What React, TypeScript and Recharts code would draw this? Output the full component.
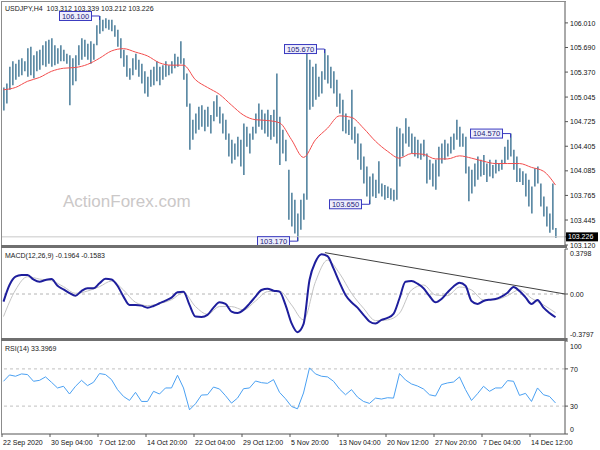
import React from "react";
import {
  ComposedChart,
  Bar,
  Line,
  XAxis,
  YAxis,
  ReferenceLine,
  ReferenceDot,
} from "recharts";

const FONT = "'Liberation Sans', Arial, sans-serif";
const SPAN = 375.33; // H4 bars visible across the plot
const SLOT = 2; // H4 bars per drawn bar

// high / low per drawn bar (USDJPY H4)
const highs = [
  105.17, 105.22, 105.44, 105.51, 105.48, 105.53, 105.55, 105.51, 105.68, 105.7,
  105.59, 105.64, 105.66, 105.72, 105.77, 105.79, 105.81, 105.72, 105.68, 105.72,
  105.66, 105.61, 105.59, 105.55, 105.59, 105.72, 105.81, 105.79, 105.74, 105.77,
  105.74, 105.98, 106.1, 106.05, 106.07, 106.05, 106.05, 105.98, 105.92, 105.81,
  105.66, 105.59, 105.42, 105.55, 105.61, 105.53, 105.48, 105.38, 105.31, 105.4,
  105.44, 105.51, 105.44, 105.46, 105.51, 105.46, 105.51, 105.61, 105.57, 105.77,
  105.55, 105.35, 104.96, 104.75, 104.83, 104.92, 104.94, 104.88, 104.92, 104.81,
  104.99, 105.07, 104.92, 104.83, 104.75, 104.57, 104.49, 104.44, 104.53, 104.49,
  104.7, 104.66, 104.57, 104.66, 104.83, 104.96, 104.88, 104.83, 104.88, 104.81,
  104.88, 105.35, 104.79, 104.62, 104.49, 104.1, 103.8, 103.71, 103.53, 103.71,
  103.79, 105.61, 105.53, 105.44, 105.48, 105.31, 105.38, 105.67, 105.59, 105.44,
  105.38, 105.27, 105.09, 105.01, 104.83, 104.75, 105.14, 104.66, 104.57, 104.44,
  104.27, 104.14, 104.01, 104.05, 103.97, 104.21, 103.92, 103.9, 103.88, 103.86,
  103.84, 104.66, 104.64, 104.57, 104.77, 104.66, 104.57, 104.53, 104.49, 104.44,
  104.49, 104.31, 104.23, 104.18, 104.23, 104.4, 104.44, 104.49, 104.44, 104.53,
  104.57, 104.75, 104.66, 104.57, 104.53, 104.14, 104.1, 104.18, 104.27, 104.23,
  104.29, 104.18, 104.23, 104.16, 104.23, 104.18, 104.23, 104.4, 104.49, 104.57,
  104.36, 104.27, 104.12, 104.08, 104.05, 103.97, 103.88, 104.12, 104.14, 103.92,
  103.75, 103.62, 103.53, 103.92, 103.34,
];
const lows = [
  104.87, 104.96, 105.14, 105.2, 105.27, 105.31, 105.33, 105.38, 105.31, 105.33,
  105.29, 105.38, 105.4, 105.46, 105.44, 105.48, 105.44, 105.46, 105.48, 105.51,
  105.51, 105.48, 104.94, 105.2, 105.25, 105.46, 105.53, 105.57, 105.53, 105.48,
  105.53, 105.72, 105.87, 105.9, 105.94, 105.92, 105.9, 105.83, 105.7, 105.55,
  105.44, 105.31, 105.27, 105.33, 105.4, 105.31, 105.22, 105.09, 105.05, 105.18,
  105.2, 105.25, 105.2, 105.27, 105.31, 105.33, 105.35, 105.42, 105.44, 105.48,
  105.27, 104.92, 104.36, 104.49, 104.57, 104.62, 104.66, 104.6, 104.66, 104.57,
  104.73, 104.79, 104.7, 104.57, 104.49, 104.27, 104.18, 104.23, 104.27, 104.14,
  104.03, 104.4, 104.31, 104.49, 104.57, 104.66, 104.62, 104.57, 104.53, 104.49,
  104.53, 104.44, 104.16, 104.31, 104.21, 103.45, 103.36, 103.27, 103.17, 103.32,
  103.45, 103.71, 104.88, 104.92, 105.01, 105.05, 105.09, 105.27, 105.22, 105.16,
  105.09, 104.92, 104.83, 104.6, 104.57, 104.55, 104.49, 104.44, 104.23, 104.1,
  103.92, 103.75, 103.65, 103.75, 103.73, 103.79, 103.75, 103.71, 103.73, 103.71,
  103.69, 103.71, 104.14, 104.27, 104.44, 104.4, 104.31, 104.27, 104.25, 104.23,
  104.27, 103.92, 103.97, 103.88, 103.84, 104.01, 104.18, 104.23, 104.27, 104.31,
  104.36, 104.49, 104.4, 104.4, 104.05, 103.69, 103.79, 103.88, 103.97, 104.01,
  104.03, 103.94, 104.01, 103.99, 104.05, 104.08, 104.1, 104.18, 104.23, 104.27,
  104.1, 103.94, 103.94, 103.9, 103.75, 103.62, 103.53, 103.88, 103.92, 103.62,
  103.49, 103.36, 103.28, 103.32, 103.21,
];
// moving average, one value every 4 drawn bars
const maValues = [
  105.14, 105.17, 105.25, 105.3, 105.38, 105.42, 105.43, 105.47, 105.55, 105.645,
  105.675, 105.63, 105.58, 105.49, 105.46, 105.46, 105.27, 105.17, 105.08, 104.94,
  104.81, 104.75, 104.74, 104.71, 104.49, 104.26, 104.49, 104.64, 104.8, 104.78,
  104.64, 104.47, 104.34, 104.25, 104.31, 104.3, 104.24, 104.24, 104.28, 104.25,
  104.21, 104.18, 104.18, 104.18, 104.13, 104.08, 103.9,
];
// MACD main line, one value every 2 drawn bars
const macdValues = [
  -0.064, 0.076, 0.146, 0.16, 0.16, 0.123, 0.104, 0.118, 0.126, 0.07,
  0.039, 0.008, -0.014, 0.025, 0.048, 0.048, 0.09, 0.129, 0.123, 0.07,
  -0.022, -0.092, -0.092, -0.098, -0.115, -0.101, -0.078, -0.056, -0.031, 0.014,
  0.02, -0.092, -0.19, -0.193, -0.176, -0.115, -0.07, -0.084, -0.148, -0.16,
  -0.134, -0.081, -0.022, 0.034, 0.045, 0.028, 0.02, -0.092, -0.246, -0.322,
  -0.255, 0.118, 0.272, 0.335, 0.32, 0.216, 0.098, -0.008, -0.07, -0.115,
  -0.176, -0.232, -0.249, -0.218, -0.202, -0.168, -0.036, 0.104, 0.109, 0.087,
  0.048, -0.017, -0.07, -0.042, 0.014, 0.064, 0.095, 0.07, -0.059, -0.084,
  -0.059, -0.048, -0.042, -0.022, 0.011, 0.059, 0.025, -0.028, -0.084, -0.05,
  -0.115, -0.16, -0.196,
];
// MACD signal, one value every 4 drawn bars
const signalValues = [
  -0.19, 0.034, 0.146, 0.126, 0.112, 0.062, 0.006, 0.025, 0.062, 0.109,
  0.034, -0.07, -0.098, -0.081, -0.048, 0.011, -0.106, -0.171, -0.106, -0.106,
  -0.134, -0.059, 0.02, 0.025, -0.092, -0.218, 0.104, 0.286, 0.174, 0.006,
  -0.12, -0.224, -0.218, -0.162, 0.034, 0.076, -0.008, -0.014, 0.059, 0.034,
  -0.05, -0.048, -0.014, 0.036, -0.036, -0.092, -0.158,
];
// RSI(14), one value every 2 drawn bars
const rsiValues = [
  56.7, 63.5, 62.1, 64.6, 63.9, 56.7, 57.7, 61.4, 55.6, 49.5,
  51.3, 43.0, 51.3, 57.7, 52.0, 55.6, 65.0, 63.9, 58.5, 47.7,
  40.4, 36.1, 44.8, 35.0, 35.0, 45.9, 43.0, 49.5, 49.5, 63.2,
  49.5, 26.0, 32.5, 41.9, 42.2, 50.5, 48.4, 41.2, 33.2, 38.6,
  48.7, 49.5, 57.0, 55.2, 54.5, 58.5, 44.8, 37.9, 29.6, 27.1,
  44.1, 71.1, 64.6, 62.1, 61.4, 56.7, 48.4, 42.2, 47.7, 39.7,
  35.0, 32.9, 38.6, 37.6, 39.0, 38.6, 65.0, 58.1, 53.8, 51.6,
  48.4, 42.2, 40.8, 53.1, 54.9, 55.9, 61.4, 47.7, 36.1, 43.3,
  51.3, 45.9, 49.5, 49.5, 57.4, 56.7, 41.5, 43.7, 35.0, 49.5,
  42.2, 40.4, 33.4,
];

const dateLabels = [
  "22 Sep 2020", "30 Sep 04:00", "7 Oct 12:00", "14 Oct 20:00",
  "22 Oct 04:00", "29 Oct 12:00", "5 Nov 20:00", "13 Nov 04:00",
  "20 Nov 12:00", "27 Nov 20:00", "7 Dec 04:00", "14 Dec 12:00",
];
const dateTicks = dateLabels.map((_, i) => i * 32);
const priceTicks = [106.01, 105.69, 105.37, 105.045, 104.725, 104.405, 104.085, 103.765, 103.445, 103.12];
const lastClose = 103.226;
const macdTicks = [0.3798, 0, -0.3797];
const rsiTicks = [100, 70, 30, 0];
const rsiLevels = [70, 30];
const priceFlags = [
  { slot: 32, price: 106.1, text: "106.100", side: "high" },
  { slot: 98, price: 103.17, text: "103.170", side: "low" },
  { slot: 107, price: 105.67, text: "105.670", side: "high" },
  { slot: 122, price: 103.65, text: "103.650", side: "low" },
  { slot: 169, price: 104.57, text: "104.570", side: "high" },
];
const macdTrend = [{ x: 215.3, y: 0.349 }, { x: SPAN, y: 0 }];

const priceRows = highs.map((h, i) => ({
  x: i * SLOT + 1,
  range: [lows[i], h],
  ma: i % 4 === 0 ? maValues[i / 4] : null,
}));
const macdRows = macdValues.map((v, k) => ({
  x: k * 2 * SLOT + 1,
  macd: v,
  signal: k % 2 === 0 ? signalValues[k / 2] : null,
}));
const rsiRows = rsiValues.map((v, k) => ({ x: k * 2 * SLOT + 1, rsi: v }));

const axisStroke = "#555";

function makeTick(fmt: (v: number) => string, shift: (v: number) => number = () => 0) {
  return (p: any) => {
    const v = p.payload.value;
    if (v === lastClose) {
      return (
        <g>
          <rect x={p.x - 4} y={p.y - 4.5} width={32} height={9} fill="#000" />
          <text x={p.x - 2} y={p.y} dy={2.6} fontSize={7} fontFamily={FONT} fill="#fff">
            {fmt(v)}
          </text>
        </g>
      );
    }
    return (
      <text x={p.x} y={p.y + shift(v)} dy={2.6} fontSize={7} fontFamily={FONT} fill="#111">
        {fmt(v)}
      </text>
    );
  };
}

function DateTick(p: any) {
  return (
    <text x={p.x + 1} y={p.y} dy={5.5} fontSize={7} fontFamily={FONT} fill="#111">
      {dateLabels[Math.round(p.payload.value / 32)]}
    </text>
  );
}

function flagShape(text: string, side: string) {
  return (p: any) => {
    const { cx, cy } = p;
    const dir = side === "high" ? 1 : -1;
    return (
      <g>
        <line x1={cx - 8} y1={cy} x2={cx} y2={cy} stroke="#3a3ac0" strokeWidth={1} />
        <line x1={cx} y1={cy} x2={cx} y2={cy + 4 * dir} stroke="#3a3ac0" strokeWidth={1} />
        <rect x={cx - 40} y={cy - 4.5} width={32} height={9} fill="#eeeefc" stroke="#3a3ac0" strokeWidth={1} />
        <text x={cx - 24} y={cy} dy={2.6} textAnchor="middle" fontSize={7.5} fontFamily={FONT} fill="#22227a">
          {text}
        </text>
      </g>
    );
  };
}

export default function App() {
  return (
    <div style={{ position: "fixed", left: 0, top: 0, width: 600, height: 450, background: "#fff", overflow: "hidden" }}>
      <div style={{ position: "absolute", left: 0, top: 0 }}>
        <ComposedChart width={600} height={254} data={priceRows} margin={{ top: 2, right: 0, bottom: 9, left: 2 }}>
          <XAxis type="number" dataKey="x" domain={[0, SPAN]} hide />
          <YAxis
            orientation="right"
            width={35}
            domain={[103.12, 106.282]}
            allowDataOverflow
            ticks={[...priceTicks, lastClose]}
            interval={0}
            tickSize={3}
            axisLine={{ stroke: axisStroke }}
            tickLine={{ stroke: axisStroke }}
            tick={makeTick((v) => v.toFixed(3))}
          />
          <ReferenceLine y={lastClose} stroke="#c8c8c8" strokeWidth={1} />
          <Bar dataKey="range" fill="#5e8ba5" barSize={1.7} isAnimationActive={false} />
          <Line dataKey="ma" type="monotone" stroke="#f24d4d" strokeWidth={1} dot={false} connectNulls isAnimationActive={false} />
          {priceFlags.map((f) => (
            <ReferenceDot key={f.text} x={f.slot * SLOT + 1} y={f.price} r={0} shape={flagShape(f.text, f.side)} />
          ))}
        </ComposedChart>
      </div>

      <div style={{ position: "absolute", left: 0, top: 245 }}>
        <ComposedChart width={600} height={98} data={macdRows} margin={{ top: 4, right: 0, bottom: 4, left: 2 }}>
          <XAxis type="number" dataKey="x" domain={[0, SPAN]} hide />
          <YAxis
            orientation="right"
            width={35}
            domain={[-0.3797, 0.3798]}
            allowDataOverflow
            ticks={macdTicks}
            interval={0}
            tickSize={3}
            axisLine={{ stroke: axisStroke }}
            tickLine={{ stroke: axisStroke }}
            tick={makeTick((v) => (v === 0 ? "0.00" : v.toFixed(4)), (v) => (v > 0 ? 4 : v < 0 ? -5 : 0))}
          />
          <ReferenceLine y={0} stroke="#b4b4b4" strokeDasharray="3 3" />
          <ReferenceLine segment={macdTrend} stroke="#404040" strokeWidth={1} />
          <Line dataKey="signal" type="monotone" stroke="#c4c4c4" strokeWidth={1} dot={false} connectNulls isAnimationActive={false} />
          <Line dataKey="macd" type="monotone" stroke="#1e1e9c" strokeWidth={2} dot={false} isAnimationActive={false} />
        </ComposedChart>
      </div>

      <div style={{ position: "absolute", left: 0, top: 336 }}>
        <ComposedChart width={600} height={114} data={rsiRows} margin={{ top: 5, right: 0, bottom: 0, left: 2 }}>
          <XAxis
            type="number"
            dataKey="x"
            domain={[0, SPAN]}
            ticks={dateTicks}
            interval={0}
            height={16}
            tickSize={3}
            axisLine={{ stroke: axisStroke }}
            tickLine={{ stroke: axisStroke }}
            tick={<DateTick />}
          />
          <YAxis
            orientation="right"
            width={35}
            domain={[0, 100]}
            allowDataOverflow
            ticks={rsiTicks}
            interval={0}
            tickSize={3}
            axisLine={{ stroke: axisStroke }}
            tickLine={{ stroke: axisStroke }}
            tick={makeTick((v) => String(v), (v) => (v === 100 ? 5 : v === 0 ? -5 : 0))}
          />
          {rsiLevels.map((l) => (
            <ReferenceLine key={l} y={l} stroke="#c0c0c0" strokeDasharray="3 3" />
          ))}
          <Line dataKey="rsi" type="linear" stroke="#4aa0f2" strokeWidth={1} dot={false} isAnimationActive={false} />
        </ComposedChart>
      </div>

      <svg width={600} height={450} style={{ position: "absolute", left: 0, top: 0, pointerEvents: "none" }}>
        <rect x={1} y={1} width={565} height={1} fill="#8c8c8c" />
        <rect x={1} y={1} width={1} height={434} fill="#8c8c8c" />
        <rect x={1} y={245} width={566} height={3} fill="#6f6f6f" />
        <rect x={1} y={338} width={566} height={3} fill="#6f6f6f" />
        <text x={5} y={10.5} fontSize={7} fontFamily={FONT} fill="#222">
          {"USDJPY,H4\u00a0\u00a0103.312 103.339 103.212 103.226"}
        </text>
        <text x={5} y={257.5} fontSize={7} fontFamily={FONT} fill="#222">
          MACD(12,26,9) -0.1964 -0.1583
        </text>
        <text x={5} y={350.5} fontSize={7} fontFamily={FONT} fill="#222">
          RSI(14) 33.3969
        </text>
        <text x={63} y={207} fontSize={17} fontFamily={FONT} fill="#cbc8c8">
          ActionForex.com
        </text>
      </svg>
    </div>
  );
}
